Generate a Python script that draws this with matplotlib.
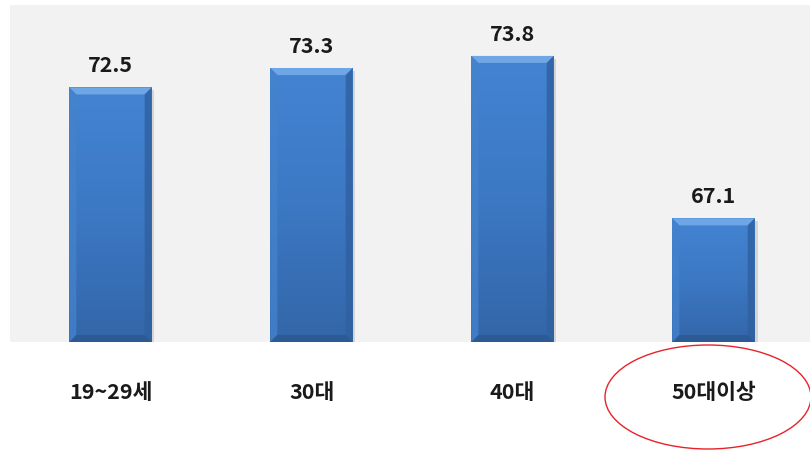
import matplotlib
matplotlib.use("Agg")
from matplotlib import pyplot as plt
from matplotlib.patches import Ellipse, Polygon
import matplotlib.patheffects as pe
import numpy as np

plt.rcParams['font.family'] = ['Noto Sans CJK KR', 'DejaVu Sans']

categories = ["19~29세", "30대", "40대", "50대이상"]
values = [72.5, 73.3, 73.8, 67.1]

ymin = 62.0
ymax = 75.9
bar_w = 0.41

fig = plt.figure(figsize=(8.1, 4.53), dpi=100)
ax = fig.add_axes([10/810, 1 - 342/453, 800/810, 337/453])
ax.set_facecolor("#f2f2f2")
ax.set_xlim(-0.5, 3.48)
ax.set_ylim(ymin, ymax)

x = np.arange(len(categories))
bars = ax.bar(x, [v - ymin for v in values], bottom=ymin, width=bar_w,
              color="#3b78c4", edgecolor="none", zorder=2)

# vertical gradient + soft bevel for each bar
grad = np.linspace(0, 1, 256).reshape(-1, 1)
cmap = matplotlib.colors.LinearSegmentedColormap.from_list(
    "b", ["#3366a8", "#3c78c4", "#4384d2"])
bx = 0.035   # bevel in x units (~7 px)
by = 0.29    # bevel in y units (~7 px)
for b in bars:
    x0, y0 = b.get_x(), b.get_y()
    w, h = b.get_width(), b.get_height()
    b.set_path_effects([pe.SimplePatchShadow(offset=(2, -2), shadow_rgbFace="#aaaaaa", alpha=0.4),
                        pe.Normal()])
    im = ax.imshow(grad, extent=[x0, x0 + w, y0, y0 + h], origin="lower",
                   cmap=cmap, aspect="auto", zorder=3)
    im.set_clip_path(b)
    x1, y1 = x0 + w, y0 + h
    top = Polygon([[x0, y1], [x1, y1], [x1 - bx, y1 - by], [x0 + bx, y1 - by]],
                  closed=True, facecolor="#6fa6e6", edgecolor="none", zorder=4)
    left = Polygon([[x0, y0], [x0, y1], [x0 + bx, y1 - by], [x0 + bx, y0 + by]],
                   closed=True, facecolor="#4482cc", edgecolor="none", alpha=0.8, zorder=4)
    right = Polygon([[x1, y0], [x1, y1], [x1 - bx, y1 - by], [x1 - bx, y0 + by]],
                    closed=True, facecolor="#30609f", edgecolor="none", alpha=0.8, zorder=4)
    bottom = Polygon([[x0, y0], [x1, y0], [x1 - bx, y0 + by], [x0 + bx, y0 + by]],
                     closed=True, facecolor="#2b5891", edgecolor="none", alpha=0.8, zorder=4)
    for p in (top, left, right, bottom):
        ax.add_patch(p)

for xi, v in zip(x, values):
    ax.annotate(f"{v:.1f}", (xi, v), xytext=(0, 8), textcoords="offset points",
                ha="center", va="bottom", fontsize=15.5, fontweight="bold",
                color="#1a1a1a", zorder=5)

ax.set_xticks(x)
ax.set_xticklabels(categories, fontsize=15.5, fontweight="bold", color="#1a1a1a")
ax.tick_params(axis="x", length=0, pad=29)
ax.set_yticks([])
for s in ax.spines.values():
    s.set_visible(False)

# red circle around the last label
fig.add_artist(Ellipse((708/810, 1 - 397/453), 206/810, 104/453,
                       transform=fig.transFigure, fill=False,
                       edgecolor="#e8222a", linewidth=1.0))

fig.savefig("out.png", dpi=100)
